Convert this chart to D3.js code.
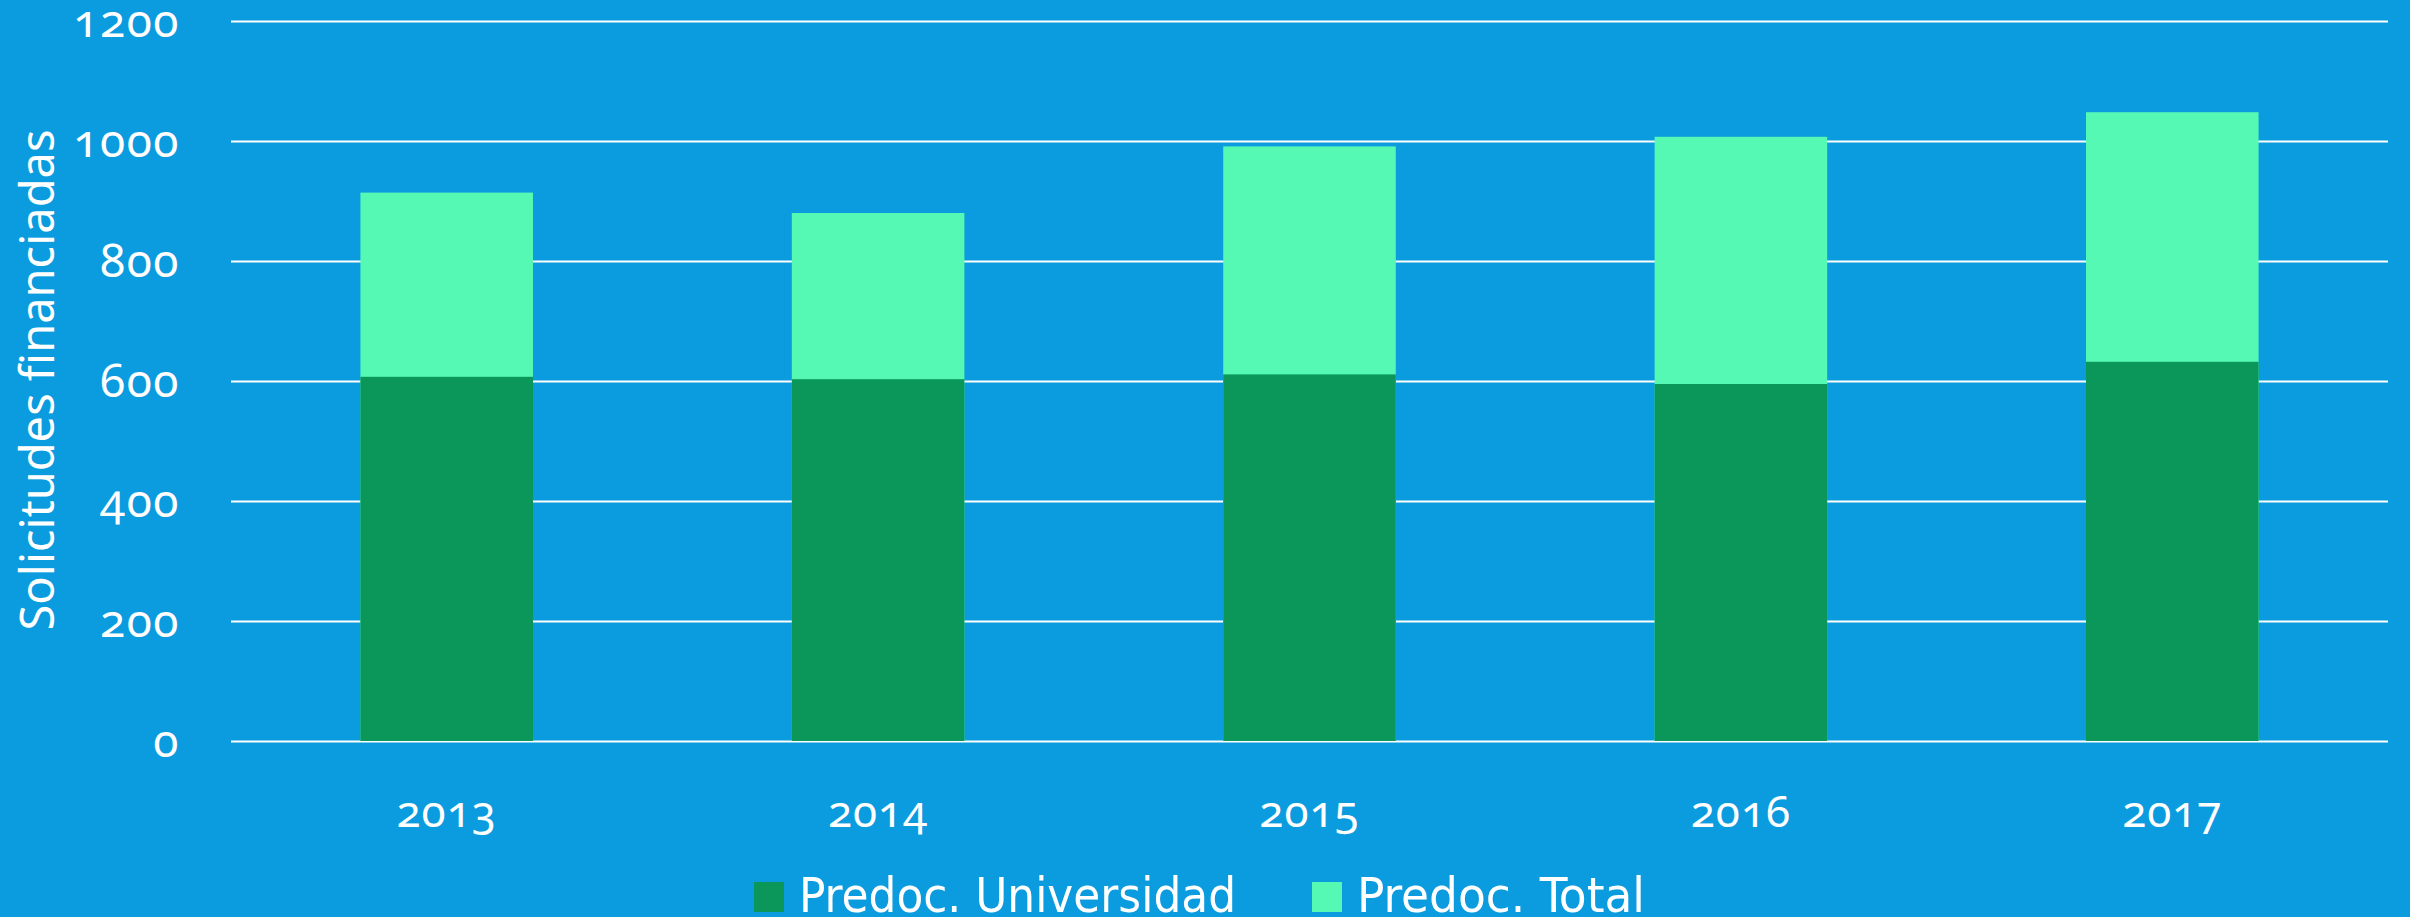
<!DOCTYPE html>
<html>
<head>
<meta charset="utf-8">
<script src="https://cdn.jsdelivr.net/npm/d3@7"></script>
<style>
  html, body { margin: 0; padding: 0; background: #0b9bdf; }
  svg { display: block; }
  .tick-label { font-family: "Noto Sans", sans-serif; font-variant-numeric: oldstyle-nums; font-feature-settings: "onum" 1; }
</style>
</head>
<body>
<div id="chart"></div>
<script>
// data
var years = ["2013", "2014", "2015", "2016", "2017"];
var predocUniversidad = [607, 603, 611, 595, 632];
var predocTotal = [914, 880, 991, 1007, 1048];
var yTicks = [0, 200, 400, 600, 800, 1000, 1200];
var seriesNames = ["Predoc. Universidad", "Predoc. Total"];
var seriesColors = ["#0a9759", "#55f9b4"];

// dimensions
var W = 2410, H = 917;
var plotLeft = 231, plotRight = 2388, plotTop = 21, plotBottom = 741;

var svg = d3.select("#chart")
    .append("svg")
    .attr("width", W)
    .attr("height", H);

svg.append("rect")
    .attr("width", W)
    .attr("height", H)
    .attr("fill", "#0b9bdf");

// scales
var x = d3.scaleBand()
    .domain(years)
    .range([plotLeft, plotRight])
    .paddingInner(0.6)
    .paddingOuter(0.3);

var y = d3.scaleLinear()
    .domain([0, 1200])
    .range([plotBottom, plotTop]);

// gridlines
svg.append("g")
  .selectAll("line")
  .data(yTicks)
  .enter()
  .append("line")
    .attr("x1", plotLeft)
    .attr("x2", plotRight)
    .attr("y1", function(d) { return Math.round(y(d)) + 0.5; })
    .attr("y2", function(d) { return Math.round(y(d)) + 0.5; })
    .attr("stroke", "#ffffff")
    .attr("stroke-width", 2);

// y tick labels
svg.append("g")
  .selectAll("text")
  .data(yTicks)
  .enter()
  .append("text")
    .attr("class", "tick-label")
    .attr("x", 180)
    .attr("y", function(d) { return y(d) + 16; })
    .attr("text-anchor", "end")
    .attr("fill", "#ffffff")
    .attr("font-size", "46px")
    .attr("letter-spacing", "1.5px")
    .text(function(d) { return d; });

// bars: total behind, universidad in front
var bars = svg.append("g");
bars.selectAll(".total")
  .data(years)
  .enter()
  .append("rect")
    .attr("class", "total")
    .attr("x", function(d) { return x(d); })
    .attr("width", x.bandwidth())
    .attr("y", function(d, i) { return y(predocTotal[i]); })
    .attr("height", function(d, i) { return y(0) - y(predocTotal[i]); })
    .attr("fill", seriesColors[1]);

bars.selectAll(".univ")
  .data(years)
  .enter()
  .append("rect")
    .attr("class", "univ")
    .attr("x", function(d) { return x(d); })
    .attr("width", x.bandwidth())
    .attr("y", function(d, i) { return y(predocUniversidad[i]); })
    .attr("height", function(d, i) { return y(0) - y(predocUniversidad[i]); })
    .attr("fill", seriesColors[0]);

// x labels
svg.append("g")
  .selectAll("text")
  .data(years)
  .enter()
  .append("text")
    .attr("class", "tick-label")
    .attr("x", function(d) { return x(d) + x.bandwidth() / 2; })
    .attr("y", 827)
    .attr("text-anchor", "middle")
    .attr("fill", "#ffffff")
    .attr("font-size", "44px")
    .attr("letter-spacing", "1px")
    .text(function(d) { return d; });

// y axis title
svg.append("text")
    .attr("transform", "translate(54," + 380 + ") rotate(-90)")
    .attr("text-anchor", "middle")
    .attr("fill", "#ffffff")
    .attr("font-family", "'Noto Sans', sans-serif")
    .attr("font-size", "47px")
    .text("Solicitudes financiadas");

// legend
var legendX = [754, 1312];
var legendW = [437, 288];
var legend = svg.append("g")
  .selectAll("g")
  .data(seriesNames)
  .enter()
  .append("g");

legend.append("rect")
    .attr("x", function(d, i) { return legendX[i]; })
    .attr("y", 882)
    .attr("width", 30)
    .attr("height", 30)
    .attr("fill", function(d, i) { return seriesColors[i]; });

legend.append("text")
    .attr("x", function(d, i) { return legendX[i] + 45; })
    .attr("y", 912)
    .attr("fill", "#ffffff")
    .attr("font-family", "'DejaVu Sans Condensed', 'DejaVu Sans', sans-serif")
    .attr("font-size", "48px")
    .attr("textLength", function(d, i) { return legendW[i]; })
    .attr("lengthAdjust", "spacingAndGlyphs")
    .text(function(d) { return d; });
</script>
</body>
</html>
